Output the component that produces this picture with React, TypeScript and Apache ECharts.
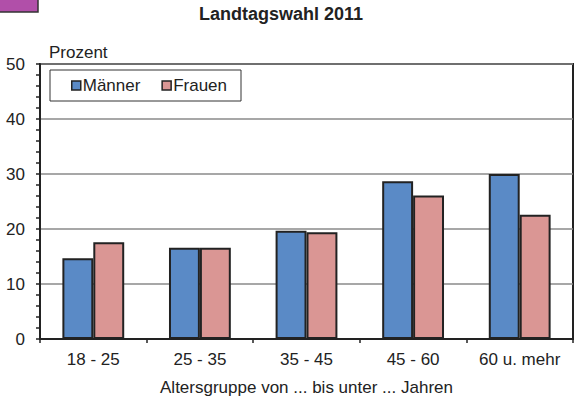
import React, { useEffect, useRef } from "react";
import * as echarts from "echarts";

const categories = ["18 - 25", "25 - 35", "35 - 45", "45 - 60", "60 u. mehr"];
const maenner = [14.7, 16.6, 19.7, 28.7, 30.0];
const frauen = [17.6, 16.6, 19.4, 26.1, 22.6];
const seriesNames = ["Männer", "Frauen"];
const yTicks = { min: 0, max: 50, interval: 10 };

const FONT = "'Liberation Sans', Arial, sans-serif";
const TEXT = "#222";

export default function App() {
  const ref = useRef<HTMLDivElement>(null);
  useEffect(() => {
    if (!ref.current) return;
    const chart = echarts.init(ref.current, undefined, { renderer: "svg" });
    chart.setOption({
      animation: false,
      backgroundColor: "#fff",
      title: {
        text: "Landtagswahl 2011",
        left: 199,
        top: 5,
        padding: 0,
        textStyle: { fontFamily: FONT, fontSize: 18, fontWeight: "bold", color: TEXT },
      },
      graphic: [
        {
          type: "rect",
          shape: { x: -2, y: -2, width: 40, height: 14 },
          style: { fill: "#b14fa9", stroke: "#333", lineWidth: 1.5 },
        },
      ],
      legend: {
        left: 50,
        top: 70,
        orient: "horizontal",
        padding: [7, 14, 7, 21],
        borderColor: "#333",
        borderWidth: 1,
        itemWidth: 9,
        itemHeight: 9,
        itemGap: 21,
        icon: "rect",
        itemStyle: { borderWidth: 1.5, borderColor: "#222" },
        textStyle: { fontFamily: FONT, fontSize: 17, color: TEXT, padding: [0, 0, 0, -3] },
        data: seriesNames,
      },
      grid: {
        left: 40,
        right: 9,
        top: 64,
        bottom: 61,
        show: true,
        borderColor: "#222",
        borderWidth: 2,
        containLabel: false,
      },
      xAxis: {
        type: "category",
        data: categories,
        name: "Altersgruppe von ... bis unter ... Jahren",
        nameLocation: "middle",
        nameGap: 40,
        nameTextStyle: { fontFamily: FONT, fontSize: 17, color: TEXT },
        axisLine: { lineStyle: { color: "#222", width: 2 } },
        axisTick: { show: true, length: 4, lineStyle: { color: "#222", width: 1.5 } },
        axisLabel: { fontFamily: FONT, fontSize: 17, color: TEXT, margin: 12 },
      },
      yAxis: {
        type: "value",
        min: yTicks.min,
        max: yTicks.max,
        interval: yTicks.interval,
        name: "Prozent",
        nameLocation: "end",
        nameGap: 3,
        nameTextStyle: {
          fontFamily: FONT,
          fontSize: 17,
          color: TEXT,
          align: "left",
          verticalAlign: "bottom",
          padding: [0, 0, 0, 9],
        },
        axisLine: { show: true, lineStyle: { color: "#222", width: 2 } },
        axisTick: { show: true, length: 4, lineStyle: { color: "#222", width: 1.5 } },
        minorTick: { show: true, splitNumber: 5, length: 4, lineStyle: { color: "#222", width: 1.5 } },
        axisLabel: { fontFamily: FONT, fontSize: 17, color: TEXT, margin: 15 },
        splitLine: { show: true, lineStyle: { color: "#8a8a8a", width: 1.5 } },
      },
      series: [
        {
          name: seriesNames[0],
          type: "bar",
          data: maenner,
          barGap: "0%",
          barCategoryGap: "42%",
          itemStyle: { color: "#5a8ac6", borderColor: "#222", borderWidth: 2 },
        },
        {
          name: seriesNames[1],
          type: "bar",
          data: frauen,
          barGap: "0%",
          barCategoryGap: "42%",
          itemStyle: { color: "#da9694", borderColor: "#222", borderWidth: 2 },
        },
      ],
    });
    return () => chart.dispose();
  }, []);
  return <div ref={ref} style={{ width: 582, height: 401, position: "absolute", left: 0, top: 0 }} />;
}
